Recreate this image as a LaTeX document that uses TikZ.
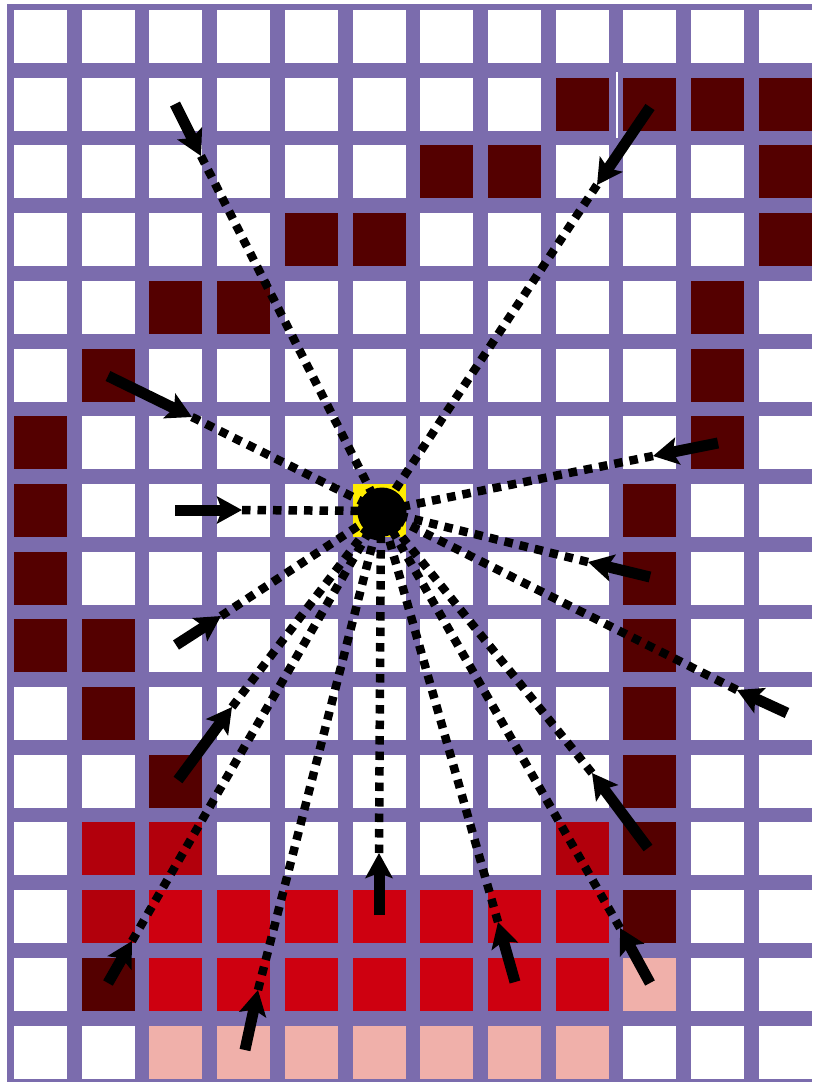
\documentclass[tikz,border=0pt]{standalone}
\usetikzlibrary{arrows.meta}
\definecolor{gridpurple}{RGB}{123,108,173}
\definecolor{darkmaroon}{RGB}{84,0,0}
\definecolor{redcell}{RGB}{206,0,16}
\definecolor{midred}{RGB}{178,0,12}
\definecolor{pinkcell}{RGB}{240,176,170}
\definecolor{yelcell}{RGB}{255,236,0}
\newcommand\gridcell[3]{\fill[#1] ({14+67.7*#2},{10+67.7*#3}) rectangle ++(53,53);}
\begin{document}
\begin{tikzpicture}[x=1pt,y=-1pt,
  solidarrow/.style={line width=11pt,-{Stealth[length=25pt,width=27pt,inset=5pt]}},
  dotline/.style={line width=8.5pt,dash pattern=on 8.5pt off 7pt},
  blobnode/.style={circle,fill=black,minimum size=49pt,inner sep=0pt}]
\useasboundingbox (0,0) rectangle (812,1082);
\fill[white] (0,0) rectangle (812,1082);
\fill[gridpurple] (7,4) rectangle (812,1082);
\foreach \i in {0,...,11}{\foreach \j in {0,...,15}{\gridcell{white}{\i}{\j}}}
% dark maroon cells
\foreach \i/\j in {8/1,9/1,10/1,11/1,6/2,7/2,11/2,4/3,5/3,11/3,2/4,3/4,10/4,1/5,10/5,0/6,10/6,0/7,9/7,0/8,9/8,0/9,1/9,9/9,1/10,9/10,2/11,9/11,9/12,9/13,1/14}{\gridcell{darkmaroon}{\i}{\j}}
\foreach \i/\j in {1/12,2/12,8/12,1/13}{\gridcell{midred}{\i}{\j}}
\foreach \i in {2,...,8}{\gridcell{redcell}{\i}{13}\gridcell{redcell}{\i}{14}\gridcell{pinkcell}{\i}{15}}
\gridcell{pinkcell}{9}{14}
\gridcell{yelcell}{5}{7}
\draw[white,line width=1.2pt] (617,72) -- (617,138);
% centre
\coordinate (c) at (381,511);
% arrow tails and tips
\coordinate (s1) at (175,104);  \coordinate (t1) at (201,156);
\coordinate (s2) at (650,107);  \coordinate (t2) at (597,185);
\coordinate (s3) at (108,376);  \coordinate (t3) at (192,417);
\coordinate (s4) at (175,510);  \coordinate (t4) at (242,510);
\coordinate (s5) at (718,443);  \coordinate (t5) at (653,456);
\coordinate (s6) at (650,577);  \coordinate (t6) at (588,562);
\coordinate (s7) at (787,713);  \coordinate (t7) at (737,690);
\coordinate (s8) at (176,645);  \coordinate (t8) at (221,616);
\coordinate (s9) at (178,780);  \coordinate (t9) at (232,707);
\coordinate (s10) at (648,848); \coordinate (t10) at (592,773);
\coordinate (s11) at (379,915); \coordinate (t11) at (379,853);
\coordinate (s12) at (108,983); \coordinate (t12) at (132,941);
\coordinate (s13) at (245,1050);\coordinate (t13) at (258,990);
\coordinate (s14) at (515,982); \coordinate (t14) at (498,922);
\coordinate (s15) at (650,983); \coordinate (t15) at (620,928);
\foreach \k in {1,...,15}{
  \draw[dotline] (t\k) -- (c);
  \draw[solidarrow] (s\k) -- (t\k);
}
\node[blobnode] (blob) at (382,512) {};
\end{tikzpicture}
\end{document}
